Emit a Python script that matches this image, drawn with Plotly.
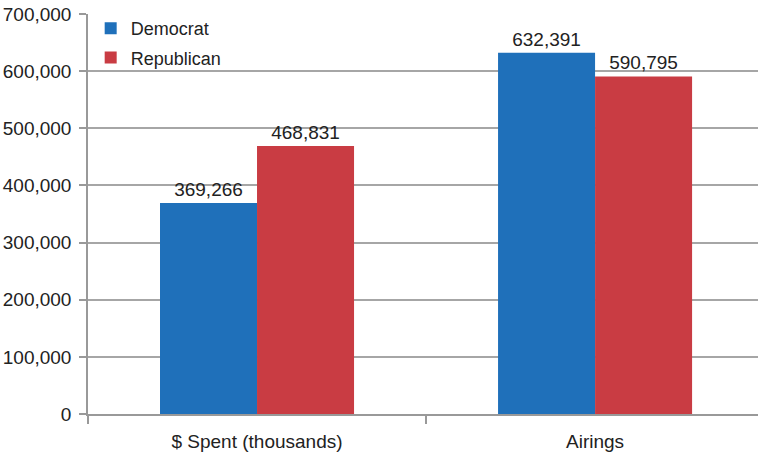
import plotly.graph_objects as go

categories = ["$ Spent (thousands)", "Airings"]
democrat = [369266, 632391]
republican = [468831, 590795]
y_ticks = [0, 100000, 200000, 300000, 400000, 500000, 600000, 700000]

blue = "#1f70ba"
red = "#c93c43"
font = "Liberation Sans, Arial, sans-serif"

fig = go.Figure()
for name, vals, col in [("Democrat", democrat, blue), ("Republican", republican, red)]:
    fig.add_trace(go.Bar(
        name=name, legendgroup=name, x=categories, y=vals,
        marker=dict(color=col, line=dict(width=0)),
        text=[f"{v:,}" for v in vals], textposition="outside",
        textfont=dict(size=19, color="#222222", family=font), cliponaxis=False,
    ))

fig.update_layout(
    width=758, height=457,
    margin=dict(l=88, r=0, t=14, b=43),
    paper_bgcolor="white", plot_bgcolor="white",
    barmode="group", bargap=0.426, bargroupgap=0,
    font=dict(family=font, size=19, color="#222222"),
    showlegend=True,
    legend=dict(x=0.004, y=1.01, xanchor="left", yanchor="top",
                font=dict(size=18, color="#222222"), bgcolor="rgba(0,0,0,0)",
                traceorder="grouped", tracegroupgap=3),
    uniformtext=dict(mode=False),
)
fig.update_xaxes(
    range=[-0.5, 1.482], tickson="boundaries", ticks="outside", ticklen=8,
    tickcolor="#999999", tickwidth=1.5, showline=True, linecolor="#999999", linewidth=1.5,
    showgrid=False, tickfont=dict(size=19), ticklabelstandoff=9,
)
fig.update_yaxes(
    range=[0, 700000], tickvals=y_ticks, ticktext=[f"{v:,}" for v in y_ticks],
    ticks="outside", ticklen=7, tickcolor="#999999", tickwidth=1.5,
    showline=True, linecolor="#999999", linewidth=1.5,
    showgrid=True, gridcolor="#a6a6a6", gridwidth=1.5, zeroline=False,
    tickfont=dict(size=19), ticklabelstandoff=4,
)

fig.write_html("out.html")
